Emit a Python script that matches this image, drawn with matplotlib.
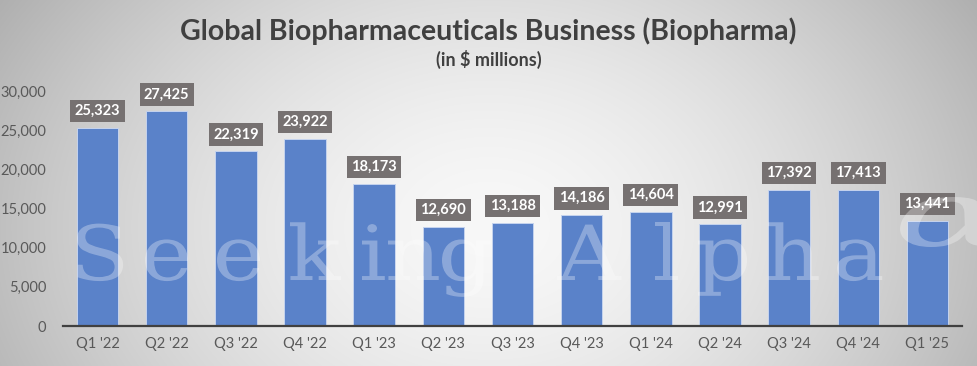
import numpy as np
import matplotlib
matplotlib.use("Agg")
import matplotlib.pyplot as plt
from matplotlib.textpath import TextPath
from matplotlib.patches import PathPatch
from matplotlib.font_manager import FontProperties
import matplotlib.transforms as mtransforms

# ---------------- data ----------------
quarters = ["Q1 '22", "Q2 '22", "Q3 '22", "Q4 '22", "Q1 '23", "Q2 '23", "Q3 '23",
            "Q4 '23", "Q1 '24", "Q2 '24", "Q3 '24", "Q4 '24", "Q1 '25"]
revenue = [25323, 27425, 22319, 23922, 18173, 12690, 13188,
           14186, 14604, 12991, 17392, 17413, 13441]
yticks = [0, 5000, 10000, 15000, 20000, 25000, 30000]
title = "Global Biopharmaceuticals Business (Biopharma)"
subtitle = "(in $ millions)"
watermark_chars = list("SeekingAlpha")
watermark_left_px = [77, 145, 217, 290, 362, 388, 442, 557, 655, 698, 768, 837]

plt.rcParams['font.family'] = ['Lato', 'DejaVu Sans']

W, H = 977, 366
fig = plt.figure(figsize=(W / 100, H / 100), dpi=100)

# ---------------- gradient background ----------------
bg = fig.add_axes([0, 0, 1, 1], zorder=-10)
yy, xx = np.mgrid[0:H, 0:W]
cx, cy = W * 0.5, H * 0.62
r = np.sqrt(((xx - cx) / (W * 0.5)) ** 2 + ((yy - cy) / (H * 1.0)) ** 2)
v = 248 - 56 * np.clip(r, 0, 1.3) ** 1.6
img = np.dstack([v, v, v]) / 255.0
bg.imshow(np.clip(img, 0, 1), aspect='auto', extent=[0, 1, 0, 1], origin='upper')
bg.set_axis_off()

# ---------------- main axes ----------------
ax = fig.add_axes([63 / W, 40 / H, (962 - 63) / W, (326 - 91) / H])
ax.set_facecolor('none')
x = np.arange(len(quarters))
ax.bar(x, revenue, width=0.6, color='#5a82c9', edgecolor='#c5d3ee', linewidth=0.7, zorder=2)
ax.set_xlim(-0.5, len(quarters) - 0.5)
ax.set_ylim(0, 30000)
ax.set_yticks(yticks)
ax.set_yticklabels([f"{t:,}" for t in yticks])
ax.set_xticks(x)
ax.set_xticklabels(quarters)
for s in ['left', 'top', 'right']:
    ax.spines[s].set_visible(False)
ax.spines['bottom'].set_color('#404040')
ax.spines['bottom'].set_linewidth(1.6)
ax.tick_params(axis='both', length=0, labelsize=10.5, colors='#595959')
ax.tick_params(axis='y', pad=12)
ax.tick_params(axis='x', pad=8)

for xi, val in zip(x, revenue):
    ax.annotate(f"{val:,}", (xi, val), xytext=(0, 12), textcoords='offset points',
                ha='center', va='center', color='white', fontweight='bold', fontsize=10.5,
                bbox=dict(boxstyle='square,pad=0.3', fc='#767171', ec='none'), zorder=5)

# ---------------- titles ----------------
fig.text(0.5, 1 - 31 / H, title, ha='center', va='center', fontsize=20.5,
         fontweight='bold', color='#404040')
fig.text(0.5, 1 - 59 / H, subtitle, ha='center', va='center', fontsize=13,
         fontweight='bold', color='#404040')

# ---------------- watermark ----------------
fp = FontProperties(family='DejaVu Serif')
em = 76.0
stretch = 1.15
baseline = H - 280
for ch, left in zip(watermark_chars, watermark_left_px):
    tp = TextPath((0, 0), ch, size=1, prop=fp)
    ext = tp.get_extents()
    tr = (mtransforms.Affine2D().translate(-ext.x0, 0).scale(em * stretch, em)
          .translate(left, baseline).scale(1 / W, 1 / H) + fig.transFigure)
    fig.add_artist(PathPatch(tp, transform=tr, fc='white', ec='none', alpha=0.3, zorder=10))

fpi = FontProperties(family='DejaVu Serif', style='italic')
tp = TextPath((0, 0), "α", size=1, prop=fpi)
ext = tp.get_extents()
tr = (mtransforms.Affine2D().translate(-ext.x0, -ext.y0).scale(110 / ext.width, 50 / ext.height)
      .translate(900, H - 247).scale(1 / W, 1 / H) + fig.transFigure)
fig.add_artist(PathPatch(tp, transform=tr, fc='white', ec='none', alpha=0.3, zorder=10))

fig.savefig('out.png', dpi=100)
